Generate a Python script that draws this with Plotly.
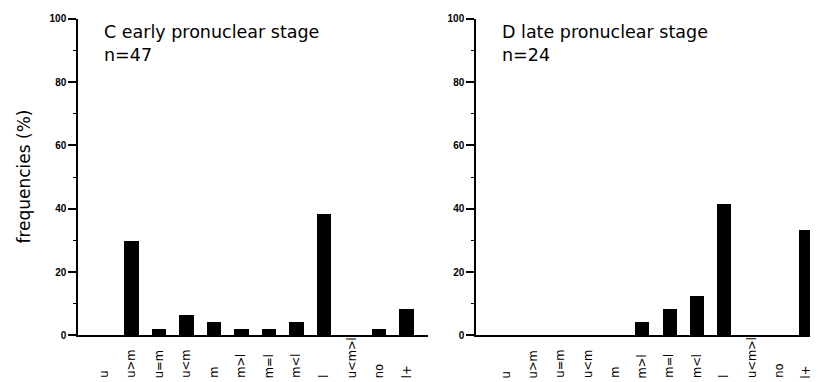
import plotly.graph_objects as go

categories = ['u', 'u>m', 'u=m', 'u<m', 'm', 'm>l', 'm=l', 'm<l', 'l', 'u<m>l', 'no', 'l+']
early_values = [0, 29.8, 2.1, 6.4, 4.3, 2.1, 2.1, 4.3, 38.3, 0, 2.1, 8.5]
late_values = [0, 0, 0, 0, 0, 4.2, 8.3, 12.5, 41.7, 0, 0, 33.3]
y_ticks = [0, 20, 40, 60, 80, 100]
panel_titles = ['C early pronuclear stage', 'D late pronuclear stage']
panel_n = ['n=47', 'n=24']

W, H = 818, 382
xs = list(range(len(categories)))

fig = go.Figure()
fig.add_trace(go.Bar(x=xs, y=early_values, width=0.52, marker=dict(color='black', line=dict(width=0)),
                     xaxis='x', yaxis='y', showlegend=False))
fig.add_trace(go.Bar(x=xs, y=late_values, width=0.52, marker=dict(color='black', line=dict(width=0)),
                     xaxis='x2', yaxis='y2', showlegend=False))

ybot, ytop = 1 - 331 / H, 1 - 6 / H
xdom1 = [70 / W, 420 / W]
xdom2 = [468 / W, 817 / W]

xcommon = dict(showticklabels=False, ticks='', showgrid=False, zeroline=False,
               showline=True, linecolor='black', linewidth=1.5, fixedrange=True)
ycommon = dict(range=[0, 100], showgrid=False, zeroline=False, showline=True, linecolor='black',
               linewidth=1.5, ticks='outside', ticklen=8, tickwidth=1.5, tickcolor='black',
               tickvals=y_ticks, ticktext=[str(v) for v in y_ticks], ticklabeloverflow='allow',
               tickfont=dict(family='Liberation Sans', size=10, color='black', weight='bold'),
               minor=dict(ticks='outside', ticklen=3, tickwidth=1.2, tickcolor='black', dtick=10))

fig.update_layout(
    width=W, height=H, margin=dict(l=0, r=0, t=0, b=0),
    paper_bgcolor='white', plot_bgcolor='white',
    xaxis=dict(domain=xdom1, anchor='y', range=[-0.95, 11.78], **xcommon),
    yaxis=dict(domain=[ybot, ytop], anchor='x', **ycommon),
    xaxis2=dict(domain=xdom2, anchor='y2', range=[-1.1, 11.7], **xcommon),
    yaxis2=dict(domain=[ybot, ytop], anchor='x2', **ycommon),
    bargap=0,
)

annotations = []
for i, (xd, ttl, nn) in enumerate(zip([xdom1, xdom2], panel_titles, panel_n)):
    left = xd[0] + 24 / W
    annotations.append(dict(xref='paper', yref='paper', x=left, y=1 - 20 / H, text=ttl, showarrow=False,
                            xanchor='left', yanchor='middle',
                            font=dict(family='DejaVu Sans', size=17.5, color='black')))
    annotations.append(dict(xref='paper', yref='paper', x=left, y=1 - 43 / H, text=nn, showarrow=False,
                            xanchor='left', yanchor='middle',
                            font=dict(family='DejaVu Sans', size=17.5, color='black')))
    xref = 'x' if i == 0 else 'x2'
    for xi, lab in zip(xs, categories):
        annotations.append(dict(xref=xref, yref='paper', x=xi, y=1 - 377 / H, text=lab, showarrow=False,
                                textangle=-90, xanchor='center', yanchor='bottom',
                                font=dict(family='DejaVu Sans', size=11.5, color='black')))

annotations.append(dict(xref='paper', yref='paper', x=16 / W, y=1 - 168 / H, text='frequencies (%)',
                        showarrow=False, textangle=-90, xanchor='center', yanchor='middle',
                        font=dict(family='DejaVu Sans', size=17, color='black')))
fig.update_layout(annotations=annotations)

fig.write_html('out.html')
